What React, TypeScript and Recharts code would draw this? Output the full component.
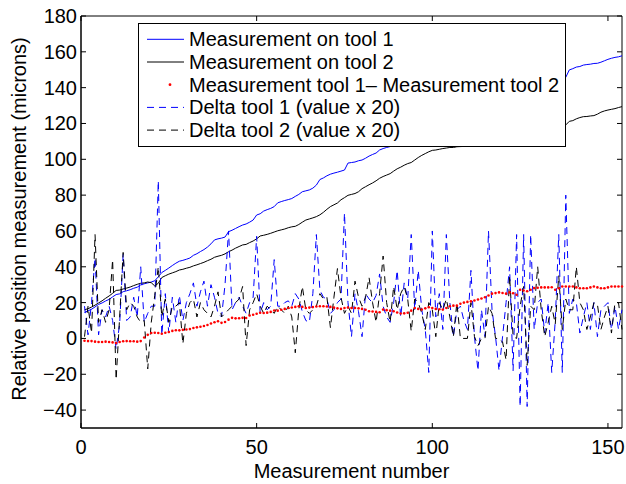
import React from "react";
import { LineChart, Line, XAxis, YAxis, ReferenceArea } from "recharts";

const BLUE = "#0000ff";
const BLACK = "#000000";
const RED = "#ff0000";
const FONT = "'Liberation Sans', Arial, Helvetica, sans-serif";
const DASH = "7 5";

const W = 626;
const H = 484;
const PLOT_LEFT = 81;
const PLOT_RIGHT = 622;
const PLOT_TOP = 16;
const PLOT_BOTTOM = 428;

const X_TICKS = [0, 50, 100, 150];
const Y_TICKS = [-40, -20, 0, 20, 40, 60, 80, 100, 120, 140, 160, 180];

// Measurement on tool 1 (microns), measurement number 1..154
const TOOL1 = [
  14.5, 15.4, 16.3, 17.6, 19.0, 19.8, 20.9, 21.8, 23.2, 24.5,
  24.9, 26.1, 26.6, 27.2, 28.0, 28.6, 29.9, 30.5, 31.0, 31.5,
  32.2, 34.4, 36.8, 38.0, 39.3, 40.7, 42.0, 43.1, 43.6, 44.2,
  44.9, 46.4, 47.3, 48.5, 49.6, 51.0, 52.8, 55.0, 55.6, 56.0,
  56.6, 59.6, 60.4, 61.4, 62.4, 63.3, 63.9, 64.9, 66.1, 68.9,
  69.6, 71.1, 71.9, 72.6, 73.6, 75.7, 76.4, 77.0, 77.5, 78.1,
  79.3, 80.4, 81.9, 82.4, 82.9, 83.9, 85.6, 88.7, 89.6, 90.8,
  91.7, 92.3, 92.8, 93.4, 94.0, 97.9, 98.2, 98.5, 99.2, 99.6,
  100.6, 101.8, 102.7, 103.5, 105.2, 106.0, 106.6, 107.1, 108.0, 109.6,
  110.1, 111.4, 112.3, 114.5, 115.1, 116.6, 117.3, 117.5, 116.8, 119.1,
  119.6, 120.6, 120.8, 123.2, 123.9, 124.0, 124.6, 125.4, 125.8, 126.0,
  127.6, 127.7, 126.9, 127.6, 127.7, 130.1, 130.8, 130.9, 130.1, 130.2,
  131.5, 133.3, 132.7, 135.2, 133.7, 136.2, 134.7, 137.3, 137.8, 138.9,
  140.0, 140.3, 141.4, 140.7, 141.4, 144.2, 143.6, 145.8, 149.9, 150.6,
  151.5, 151.8, 152.6, 152.9, 153.1, 153.5, 153.6, 154.2, 155.0, 155.8,
  156.4, 156.9, 157.2, 157.8,
];

// Measurement on tool 2 (microns)
const TOOL2 = [
  16.0, 16.6, 17.5, 18.6, 19.8, 21.0, 22.4, 23.7, 25.2, 26.8,
  27.0, 27.6, 28.1, 28.7, 29.5, 30.2, 30.8, 31.0, 31.5, 31.1,
  29.3, 30.8, 34.0, 35.0, 35.9, 36.6, 37.3, 38.2, 38.6, 39.2,
  39.7, 40.5, 41.1, 41.8, 42.5, 43.4, 44.2, 45.3, 45.9, 46.4,
  47.2, 48.4, 49.3, 50.4, 51.3, 52.2, 52.5, 53.5, 54.4, 55.6,
  57.2, 57.6, 58.1, 58.7, 59.4, 60.1, 60.6, 61.1, 61.8, 62.3,
  62.6, 63.6, 64.9, 66.1, 66.7, 67.3, 68.0, 69.0, 70.4, 72.1,
  73.6, 74.6, 75.6, 77.4, 78.6, 79.9, 80.4, 80.9, 81.9, 83.6,
  84.7, 85.8, 86.8, 88.0, 89.4, 90.4, 91.2, 92.0, 93.4, 94.7,
  95.6, 96.7, 97.6, 98.2, 99.6, 101.0, 102.2, 103.2, 104.2, 105.0,
  105.2, 105.6, 106.0, 106.3, 106.6, 106.6, 107.0, 107.1, 107.2, 107.4,
  108.0, 108.2, 108.0, 108.3, 108.5, 109.5, 110.2, 110.6, 110.8, 111.2,
  111.8, 112.6, 112.8, 113.3, 113.6, 114.3, 114.8, 115.5, 115.9, 116.4,
  116.9, 117.1, 117.6, 117.9, 118.4, 118.8, 119.0, 119.2, 121.2, 121.6,
  122.6, 123.3, 123.8, 123.9, 124.2, 124.4, 125.2, 126.3, 127.0, 127.5,
  127.9, 128.3, 128.9, 129.4,
];

// Measurement tool 1 - Measurement tool 2 (red dots)
const DIFF = [
  -1.3, -1.5, -1.5, -1.8, -2.0, -2.0, -1.8, -2.0, -2.2, -2.6,
  -2.0, -1.6, -1.5, -1.6, -1.6, -1.8, -1.5, 0.5, 2.0, 3.0,
  3.2, 3.0, 2.6, 3.2, 3.6, 4.2, 4.6, 4.5, 4.8, 5.0,
  5.2, 5.8, 6.2, 6.5, 6.9, 7.5, 8.3, 9.0, 9.6, 8.7,
  9.2, 10.5, 11.5, 11.2, 11.3, 11.5, 11.4, 12.8, 13.2, 13.8,
  14.3, 14.2, 14.4, 14.8, 15.6, 15.5, 16.0, 16.5, 17.0, 17.3,
  17.6, 18.0, 17.6, 17.0, 17.2, 17.5, 17.8, 18.0, 18.0, 17.8,
  17.6, 17.2, 16.8, 16.5, 17.0, 17.2, 17.0, 17.0, 16.8, 16.5,
  16.0, 15.2, 15.0, 14.8, 14.6, 16.1, 15.8, 15.5, 15.2, 14.5,
  13.9, 14.0, 14.3, 15.5, 17.0, 16.5, 16.1, 16.8, 17.4, 17.0,
  16.5, 16.3, 16.1, 17.0, 18.0, 18.3, 18.3, 19.4, 20.0, 20.4,
  20.7, 21.2, 21.7, 22.3, 23.0, 24.0, 25.0, 25.3, 25.7, 25.4,
  25.0, 25.7, 25.2, 24.4, 27.2, 26.8, 26.3, 27.2, 28.1, 28.3,
  28.5, 28.5, 28.5, 28.6, 27.2, 28.0, 29.0, 29.0, 29.0, 29.0,
  28.5, 28.0, 28.0, 28.0, 28.5, 29.0, 28.5, 28.0, 28.0, 28.5,
  29.0, 29.0, 29.0, 29.0,
];

// Delta tool 1 (value x 20)
const DELTA1 = [
  18, 2, 20, 45, 2, 16, 12, 18, 10, -6,
  8, 47, 10, 12, 23, 12, 40, 9, 14, 18,
  18, 88, 2, 25, 3, 23, 9, 24, 10, 20,
  25, 31, 18, 26, 32, 18, 30, 23, 14, 12,
  30, 60, 16, 20, 23, 18, 14, 20, 23, 57,
  14, 20, 16, 18, 44, 18, 18, 20, 21, 18,
  25, 22, 15, 10, 9, 25, 58, 27, 23, 22,
  14, 16, 20, 22, 70, 20, 1, 25, 15, 1,
  25, 22, 20, 24, 36, 18, 12, 9, 20, 38,
  12, 31, 22, 58, 16, 38, 16, 5, -19, 60,
  12, 25, 5, 58, 20, 1, 16, 18, 10, 5,
  38, 1, -18, 16, 1, 60, 16, 1, -18, 1,
  20, 40, -18, 58, -38, 58, -38, 58, 5, 20,
  22, 3, 20, -19, 10, 58, -19, 80, 14, 22,
  20, 3, 12, 20, 5, 20, 1, 16, 18, 20,
  5, 18, 5, 16,
];

// Delta tool 2 (value x 20)
const DELTA2 = [
  1, 18, 3, 58, 9, 16, 9, 16, 44, -23,
  12, 48, 16, 20, 18, 12, 9, 10, -17, 9,
  24, 40, 12, 22, 9, 18, 18, 20, -3, 14,
  20, 22, 12, 20, 16, 14, 12, 18, 26, 12,
  14, 16, 18, 20, 22, 29, -4, 16, 20, 25,
  18, 14, 18, 16, 14, 18, 16, 14, 18, 12,
  -8, 16, 29, 16, 14, 16, 18, 25, 22, 23,
  6, 23, 39, 23, 14, 18, 14, 32, 23, 18,
  23, 34, 20, 9, 25, 46, 20, 9, 29, 16,
  25, 29, 22, 4, 22, 20, 14, 5, 20, 16,
  1, 20, 16, 22, 12, 1, 20, 0, 0, 0,
  20, 1, -4, 0, 0, 18, 14, 0, 0, -2,
  -12, 35, 1, 0, 18, 29, -15, 18, 16, 40,
  16, 1, 9, 18, 8, 35, 5, 22, 16, 16,
  40, 20, 16, 5, 12, 20, 19, 5, 12, 18,
  3, 20, 20, 5,
];

const data = TOOL1.map((v, i) => ({
  n: i + 1,
  tool1: v,
  tool2: TOOL2[i],
  diff: DIFF[i],
  d1: DELTA1[i],
  d2: DELTA2[i],
}));

const fmt = (v: number) => (v < 0 ? "\u2212" + Math.abs(v) : String(v));

function XTick(props: any) {
  const { x, payload } = props;
  return (
    <g>
      <line x1={x} x2={x} y1={PLOT_BOTTOM} y2={PLOT_BOTTOM - 5} stroke={BLACK} />
      <line x1={x} x2={x} y1={PLOT_TOP} y2={PLOT_TOP + 5} stroke={BLACK} />
      <text x={x} y={PLOT_BOTTOM + 26} textAnchor="middle" fontFamily={FONT} fontSize={20} fill={BLACK}>
        {fmt(payload.value)}
      </text>
    </g>
  );
}

function YTick(props: any) {
  const { y, payload } = props;
  return (
    <g>
      <line x1={PLOT_LEFT} x2={PLOT_LEFT + 5} y1={y} y2={y} stroke={BLACK} />
      <line x1={PLOT_RIGHT - 5} x2={PLOT_RIGHT} y1={y} y2={y} stroke={BLACK} />
      <text x={PLOT_LEFT - 4} y={y + 7} textAnchor="end" fontFamily={FONT} fontSize={20} fill={BLACK}>
        {fmt(payload.value)}
      </text>
    </g>
  );
}

const LEGEND_ITEMS = [
  { label: "Measurement on tool 1", color: BLUE, kind: "solid" },
  { label: "Measurement on tool 2", color: BLACK, kind: "solid" },
  { label: "Measurement tool 1\u2013 Measurement tool 2", color: RED, kind: "dot" },
  { label: "Delta tool 1 (value x 20)", color: BLUE, kind: "dash" },
  { label: "Delta tool 2 (value x 20)", color: BLACK, kind: "dash" },
];

function ChartLegend() {
  return (
    <div
      style={{
        position: "absolute",
        left: 138,
        top: 23,
        width: 428,
        height: 124,
        boxSizing: "border-box",
        border: "1px solid #000",
        background: "#fff",
      }}
    >
      <svg width={426} height={122} style={{ display: "block" }}>
        {LEGEND_ITEMS.map((it, i) => {
          const cy = 15.3 + i * 22.7;
          return (
            <g key={it.label}>
              {it.kind === "dot" ? (
                <circle cx={31} cy={cy} r={1.4} fill={it.color} />
              ) : (
                <line
                  x1={8}
                  x2={45}
                  y1={cy}
                  y2={cy}
                  stroke={it.color}
                  strokeWidth={1}
                  strokeDasharray={it.kind === "dash" ? DASH : undefined}
                />
              )}
              <text x={50} y={cy + 7} fontFamily={FONT} fontSize={20} fill={BLACK}>
                {it.label}
              </text>
            </g>
          );
        })}
      </svg>
    </div>
  );
}

export default function App() {
  return (
    <div style={{ position: "absolute", left: 0, top: 0, width: W, height: H, background: "#fff" }}>
      <LineChart width={W} height={H} data={data} margin={{ top: PLOT_TOP, right: W - PLOT_RIGHT, bottom: 0, left: 0 }}>
        <XAxis
          dataKey="n"
          type="number"
          domain={[0, 154]}
          ticks={X_TICKS}
          height={H - PLOT_BOTTOM}
          axisLine={{ stroke: BLACK }}
          tickLine={false}
          tick={<XTick />}
          label={{
            value: "Measurement number",
            position: "insideBottom",
            content: () => (
              <text x={(PLOT_LEFT + PLOT_RIGHT) / 2} y={478} textAnchor="middle" fontFamily={FONT} fontSize={20} fill={BLACK}>
                Measurement number
              </text>
            ),
          }}
        />
        <YAxis
          type="number"
          domain={[-50, 180]}
          ticks={Y_TICKS}
          width={PLOT_LEFT}
          axisLine={{ stroke: BLACK }}
          tickLine={false}
          tick={<YTick />}
          label={{
            value: "Relative position measurement (microns)",
            content: () => (
              <text
                x={26}
                y={219}
                transform="rotate(-90 26 219)"
                textAnchor="middle"
                fontFamily={FONT}
                fontSize={20}
                fill={BLACK}
              >
                Relative position measurement (microns)
              </text>
            ),
          }}
        />
        <Line type="linear" dataKey="tool1" stroke={BLUE} strokeWidth={1} dot={false} activeDot={false} isAnimationActive={false} />
        <Line type="linear" dataKey="tool2" stroke={BLACK} strokeWidth={1} dot={false} activeDot={false} isAnimationActive={false} />
        <Line
          type="linear"
          dataKey="diff"
          stroke="none"
          dot={{ r: 1.3, fill: RED, stroke: "none" }}
          activeDot={false}
          isAnimationActive={false}
        />
        <Line type="linear" dataKey="d1" stroke={BLUE} strokeWidth={1} strokeDasharray={DASH} dot={false} activeDot={false} isAnimationActive={false} />
        <Line type="linear" dataKey="d2" stroke={BLACK} strokeWidth={1} strokeDasharray={DASH} dot={false} activeDot={false} isAnimationActive={false} />
        <ReferenceArea x1={0} x2={154} y1={-50} y2={180} fill="none" stroke={BLACK} strokeWidth={1} />
      </LineChart>
      <ChartLegend />
    </div>
  );
}
